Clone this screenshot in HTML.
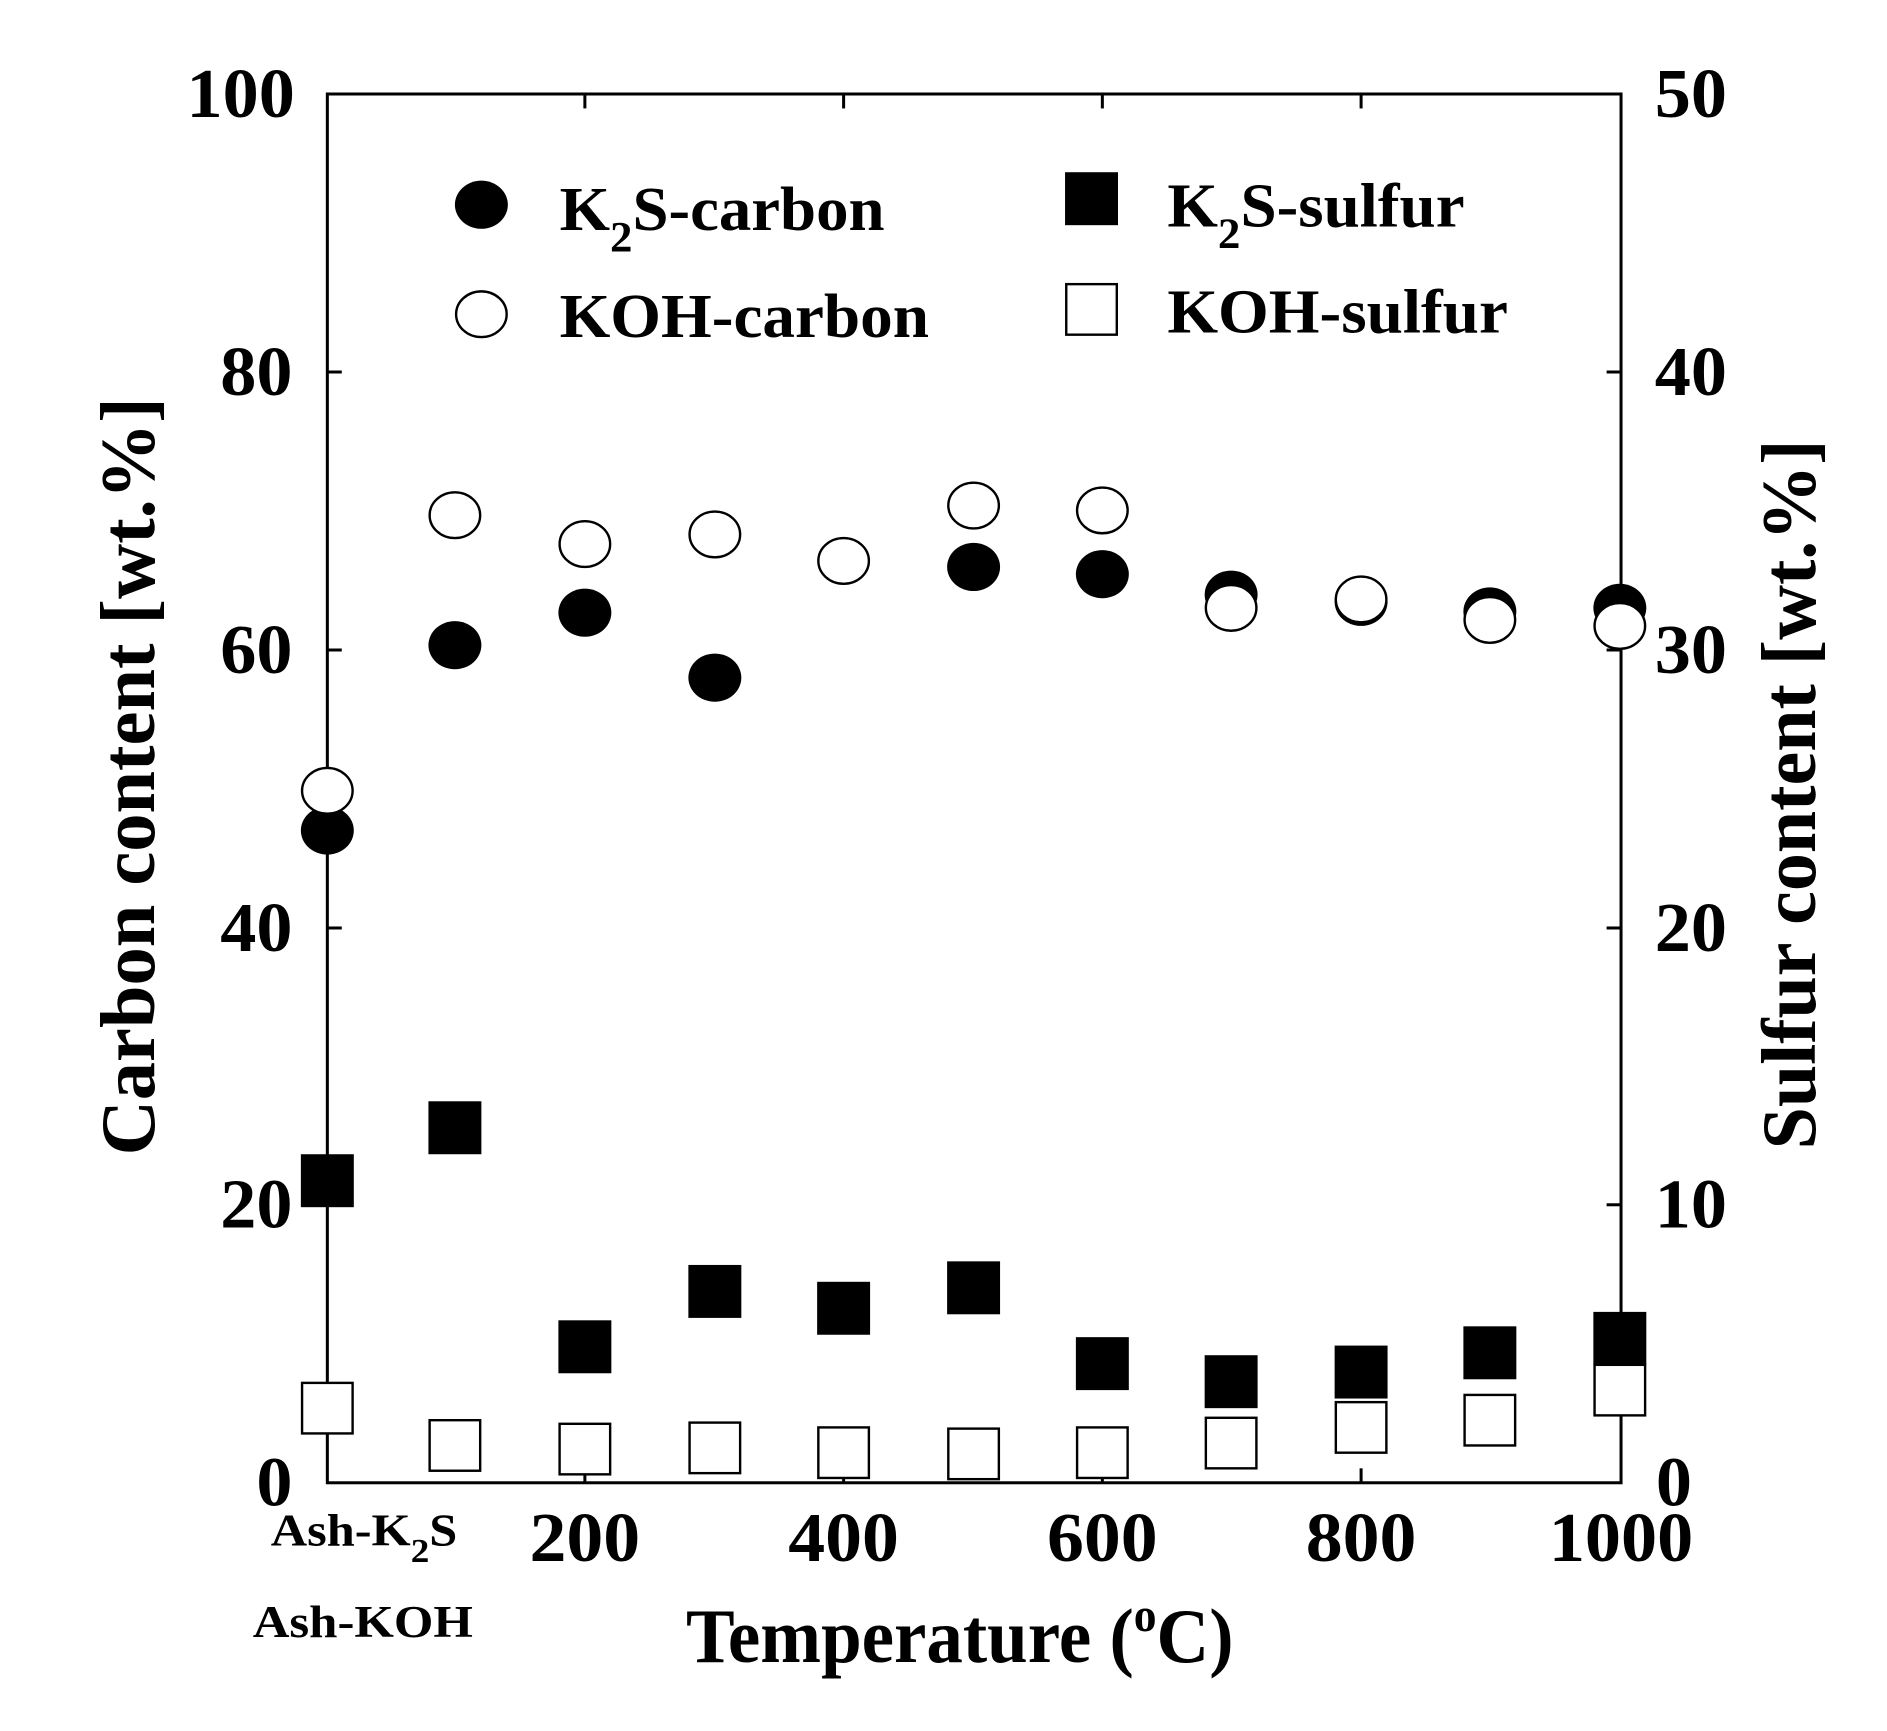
<!DOCTYPE html>
<html><head><style>html,body{margin:0;padding:0;background:#fff}</style></head><body>
<svg width="1887" height="1726" viewBox="0 0 1568 1434" xmlns="http://www.w3.org/2000/svg" font-family="Liberation Serif, serif" font-weight="bold">
<rect x="0" y="0" width="1568" height="1434" fill="#fff"/>
<rect x="272" y="78" width="1075" height="1154" fill="none" stroke="#000" stroke-width="2.5"/>
<g stroke="#000" stroke-width="2.5">
<line x1="486" y1="1232" x2="486" y2="1220"/><line x1="701" y1="1232" x2="701" y2="1220"/><line x1="916" y1="1232" x2="916" y2="1220"/><line x1="1131" y1="1232" x2="1131" y2="1220"/>
<line x1="486" y1="78" x2="486" y2="90"/><line x1="701" y1="78" x2="701" y2="90"/><line x1="916" y1="78" x2="916" y2="90"/><line x1="1131" y1="78" x2="1131" y2="90"/>
<line x1="272" y1="309" x2="284" y2="309"/><line x1="272" y1="540" x2="284" y2="540"/><line x1="272" y1="771" x2="284" y2="771"/><line x1="272" y1="1001" x2="284" y2="1001"/>
<line x1="1347" y1="309" x2="1335" y2="309"/><line x1="1347" y1="540" x2="1335" y2="540"/><line x1="1347" y1="771" x2="1335" y2="771"/><line x1="1347" y1="1001" x2="1335" y2="1001"/>
</g>
<g font-size="58">
<text x="155" y="97" textLength="90" lengthAdjust="spacingAndGlyphs">100</text>
<text x="183" y="328" textLength="60" lengthAdjust="spacingAndGlyphs">80</text>
<text x="183" y="559" textLength="60" lengthAdjust="spacingAndGlyphs">60</text>
<text x="183" y="790" textLength="60" lengthAdjust="spacingAndGlyphs">40</text>
<text x="183" y="1020" textLength="60" lengthAdjust="spacingAndGlyphs">20</text>
<text x="213" y="1251" textLength="30" lengthAdjust="spacingAndGlyphs">0</text>
<text x="1375" y="97" textLength="60" lengthAdjust="spacingAndGlyphs">50</text>
<text x="1375" y="328" textLength="60" lengthAdjust="spacingAndGlyphs">40</text>
<text x="1375" y="559" textLength="60" lengthAdjust="spacingAndGlyphs">30</text>
<text x="1375" y="790" textLength="60" lengthAdjust="spacingAndGlyphs">20</text>
<text x="1375" y="1020" textLength="60" lengthAdjust="spacingAndGlyphs">10</text>
<text x="1376" y="1251" textLength="30" lengthAdjust="spacingAndGlyphs">0</text>
<text x="440" y="1297" textLength="92" lengthAdjust="spacingAndGlyphs">200</text>
<text x="655" y="1297" textLength="92" lengthAdjust="spacingAndGlyphs">400</text>
<text x="870" y="1297" textLength="92" lengthAdjust="spacingAndGlyphs">600</text>
<text x="1085" y="1297" textLength="92" lengthAdjust="spacingAndGlyphs">800</text>
<text x="1287" y="1297" textLength="120" lengthAdjust="spacingAndGlyphs">1000</text>
</g>
<text x="225" y="1284" font-size="38" textLength="155" lengthAdjust="spacingAndGlyphs">Ash-K<tspan font-size="28" dy="14">2</tspan><tspan dy="-14">S</tspan></text>
<text x="210" y="1360" font-size="38" textLength="183" lengthAdjust="spacingAndGlyphs">Ash-KOH</text>
<text x="570" y="1381" font-size="64" textLength="455" lengthAdjust="spacingAndGlyphs">Temperature (<tspan font-size="40" dy="-26">o</tspan><tspan dy="26">C)</tspan></text>
<text transform="translate(128,960) rotate(-90)" font-size="64" textLength="630" lengthAdjust="spacingAndGlyphs">Carbon content [wt.%]</text>
<text transform="translate(1508,955) rotate(-90)" font-size="64" textLength="590" lengthAdjust="spacingAndGlyphs">Sulfur content [wt.%]</text>
<ellipse cx="400" cy="170" rx="22" ry="20"/>
<ellipse cx="400" cy="261" rx="21" ry="19" fill="#fff" stroke="#000" stroke-width="2"/>
<rect x="885" y="143" width="44" height="44"/>
<rect x="886" y="236" width="42" height="42" fill="#fff" stroke="#000" stroke-width="2"/>
<g font-size="52">
<text x="465" y="191" textLength="270" lengthAdjust="spacingAndGlyphs">K<tspan font-size="36" dy="18">2</tspan><tspan dy="-18">S-carbon</tspan></text>
<text x="465" y="280" textLength="307" lengthAdjust="spacingAndGlyphs">KOH-carbon</text>
<text x="970" y="188" textLength="247" lengthAdjust="spacingAndGlyphs">K<tspan font-size="36" dy="18">2</tspan><tspan dy="-18">S-sulfur</tspan></text>
<text x="970" y="276" textLength="283" lengthAdjust="spacingAndGlyphs">KOH-sulfur</text>
</g>
<g>
<ellipse cx="272" cy="690" rx="22" ry="20"/><ellipse cx="378" cy="536" rx="22" ry="20"/><ellipse cx="486" cy="509" rx="22" ry="20"/><ellipse cx="594" cy="563" rx="22" ry="20"/><ellipse cx="809" cy="471" rx="22" ry="20"/><ellipse cx="916" cy="477" rx="22" ry="20"/><ellipse cx="1023" cy="494" rx="22" ry="20"/><ellipse cx="1131" cy="500" rx="22" ry="20"/><ellipse cx="1238" cy="508" rx="22" ry="20"/><ellipse cx="1346" cy="505" rx="22" ry="20"/>
</g>
<g fill="#fff" stroke="#000" stroke-width="2">
<ellipse cx="272" cy="657" rx="21" ry="19"/><ellipse cx="378" cy="428" rx="21" ry="19"/><ellipse cx="486" cy="452" rx="21" ry="19"/><ellipse cx="594" cy="444" rx="21" ry="19"/><ellipse cx="701" cy="466" rx="21" ry="19"/><ellipse cx="809" cy="420" rx="21" ry="19"/><ellipse cx="916" cy="424" rx="21" ry="19"/><ellipse cx="1023" cy="505" rx="21" ry="19"/><ellipse cx="1131" cy="498" rx="21" ry="19"/><ellipse cx="1238" cy="515" rx="21" ry="19"/><ellipse cx="1346" cy="520" rx="21" ry="19"/>
</g>
<g>
<rect x="250" y="959" width="44" height="44"/><rect x="356" y="915" width="44" height="44"/><rect x="464" y="1097" width="44" height="44"/><rect x="572" y="1051" width="44" height="44"/><rect x="679" y="1065" width="44" height="44"/><rect x="787" y="1048" width="44" height="44"/><rect x="894" y="1111" width="44" height="44"/><rect x="1001" y="1126" width="44" height="44"/><rect x="1109" y="1118" width="44" height="44"/><rect x="1216" y="1102" width="44" height="44"/><rect x="1324" y="1090" width="44" height="44"/>
</g>
<g fill="#fff" stroke="#000" stroke-width="2">
<rect x="251" y="1149" width="42" height="42"/><rect x="357" y="1180" width="42" height="42"/><rect x="465" y="1183" width="42" height="42"/><rect x="573" y="1182" width="42" height="42"/><rect x="680" y="1186" width="42" height="42"/><rect x="788" y="1187" width="42" height="42"/><rect x="895" y="1186" width="42" height="42"/><rect x="1002" y="1178" width="42" height="42"/><rect x="1110" y="1165" width="42" height="42"/><rect x="1217" y="1159" width="42" height="42"/><rect x="1325" y="1134" width="42" height="42"/>
</g>
</svg>
</body></html>
